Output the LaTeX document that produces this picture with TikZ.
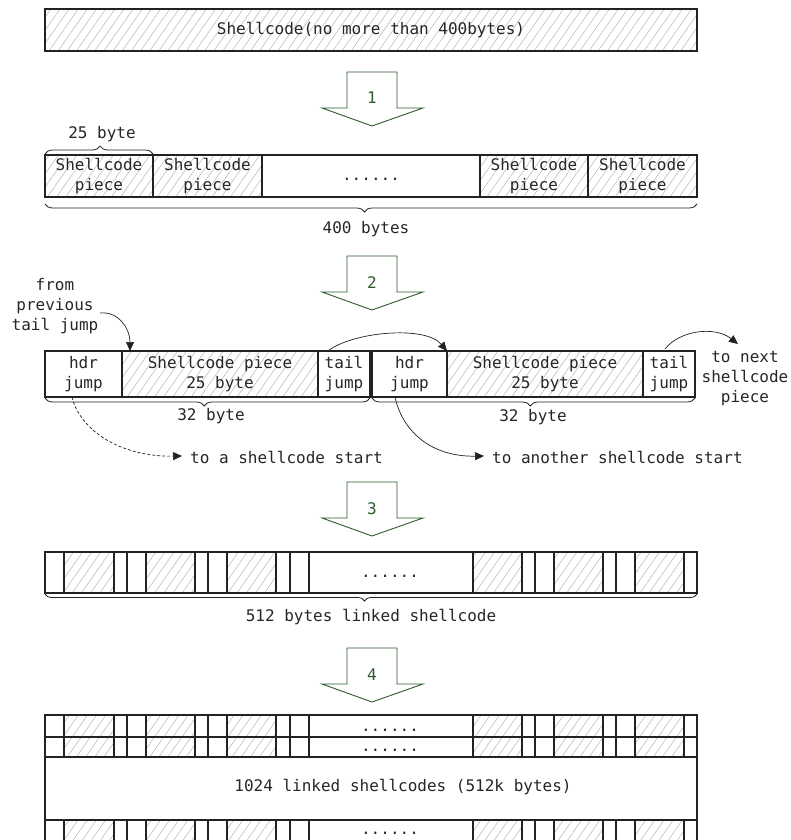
\documentclass[tikz,border=0pt]{standalone}
\usepackage{fontspec}
\setmainfont{DejaVu Sans Mono}
\usetikzlibrary{patterns.meta,decorations.pathreplacing,arrows.meta}
\definecolor{boxline}{HTML}{222222}
\definecolor{hatchc}{HTML}{B4B4B4}
\definecolor{arrowgreen}{HTML}{2E5A2E}
\tikzset{
  cell/.style={draw=boxline, line width=1.4pt, inner sep=0pt, outer sep=0pt,
    anchor=north west, align=center, text=black!85, font=\fontsize{16}{20}\selectfont},
  hatched/.style={pattern={Lines[angle=55,distance=7.5pt,line width=0.5pt]}, pattern color=hatchc},
  rowline/.style={draw=boxline, line width=1.4pt},
  bracestyle/.style={decorate, decoration={brace, amplitude=#1, aspect=0.51}, draw=boxline, line width=0.8pt},
  txt/.style={font=\fontsize{16}{20}\selectfont, inner sep=0pt, align=center, text=black!85},
  stepnum/.style={font=\fontsize{16}{20}\selectfont, text=arrowgreen, inner sep=0pt},
  bigarrow/.style={draw=arrowgreen, line width=0.9pt, fill=white, line join=miter},
  jumparrow/.style={-{Triangle[length=9pt,width=8pt]}, line width=0.7pt, draw=boxline},
}
\newcommand\shiftarrow[2]{%
  \draw[bigarrow] (347,#1) -- (397,#1) -- (397,{#1+36}) -- (423,{#1+36}) -- (372,{#1+54})
     -- (322,{#1+36}) -- (347,{#1+36}) -- cycle;
  \node[stepnum,anchor=base] (step#2) at (372,{#1+32}) {#2};
}
\newcommand\cellrow[2]{%
  \foreach \a/\b in {64/114,146/195,227/276,473/522,554/603,635/684}{%
    \path[hatched] (\a,#1) rectangle (\b,#2);
  }%
  \foreach \x in {64,114,127,146,195,208,227,276,290,309,473,522,535,554,603,616,635,684}{%
    \draw[rowline] (\x,#1) -- (\x,#2);
  }%
  \draw[rowline] (45,#1) rectangle (697,#2);
}
\begin{document}
\begin{tikzpicture}[x=1pt,y=-1pt]
\useasboundingbox (0,0) rectangle (790,840);
\clip (0,0) rectangle (790,840);

% ---------- top bar
\node[cell,hatched,minimum width=652pt,minimum height=42pt] (sc) at (45,9) {Shellcode(no more than 400bytes)};

\shiftarrow{72}{1}

% ---------- pieces row
\node[cell,hatched,minimum width=108pt,minimum height=42pt] (p1) at (45,155) {Shellcode\\piece};
\node[cell,hatched,minimum width=109pt,minimum height=42pt] (p2) at (153,155) {Shellcode\\piece};
\node[cell,minimum width=218pt,minimum height=42pt] (pd) at (262,155) {\vphantom{Ag}......};
\node[cell,hatched,minimum width=108pt,minimum height=42pt] (p3) at (480,155) {Shellcode\\piece};
\node[cell,hatched,minimum width=109pt,minimum height=42pt] (p4) at (588,155) {Shellcode\\piece};

\draw[bracestyle=8pt] ([yshift=1pt]p1.north west) -- ([yshift=1pt]p1.north east);
\node[txt,anchor=base] (b25) at (102,139) {25 byte};
\draw[bracestyle=8pt] ([yshift=-7pt]p4.south east) -- ([yshift=-7pt]p1.south west);
\node[txt,anchor=base] (b400) at (366,233) {400 bytes};

\shiftarrow{256}{2}

% ---------- linked pieces
\node[txt] (fp) at (55,306) {from\\previous\\tail jump};

\node[cell,minimum width=77pt,minimum height=46pt] (h1) at (45,351) {hdr\\jump};
\node[cell,hatched,minimum width=196pt,minimum height=46pt] (s1) at (122,351) {Shellcode piece\\25 byte};
\node[cell,minimum width=52pt,minimum height=46pt] (t1) at (318,351) {tail\\jump};
\node[cell,minimum width=75pt,minimum height=46pt] (h2) at (372,351) {hdr\\jump};
\node[cell,hatched,minimum width=196pt,minimum height=46pt] (s2) at (447,351) {Shellcode piece\\25 byte};
\node[cell,minimum width=52pt,minimum height=46pt] (t2) at (643,351) {tail\\jump};

\draw[bracestyle=8pt] ([yshift=-1pt]t1.south east) -- ([yshift=-1pt]h1.south west);
\node[txt,anchor=base] (b32a) at (211,420) {32 byte};
\draw[bracestyle=8pt] ([yshift=-1pt]t2.south east) -- ([yshift=-1pt]h2.south west);
\node[txt,anchor=base] (b32b) at (533,421) {32 byte};

\node[txt] (np) at (745,379) {to next\\shellcode\\piece};
\node[txt,anchor=base west] (ta) at (190,463) {to a shellcode start};
\node[txt,anchor=base west] (tb) at (492,463) {to another shellcode start};

\coordinate (fpout) at (100,313);
\coordinate (t2out) at (665,349);
\coordinate (nextin) at (738,344);
\draw[jumparrow] (fpout) .. controls (118,311) and (130,328) .. ([xshift=8pt]s1.north west);
\draw[jumparrow] ([xshift=-16pt]t1.north) .. controls (352,332) and (425,325) .. (s2.north west);
\draw[jumparrow] (t2out) .. controls (680,330) and (715,326) .. (nextin);
\draw[jumparrow,dash pattern=on 3pt off 2pt] ([xshift=-11.5pt]h1.south) .. controls (80,430) and (120,457) .. ([xshift=-8pt,yshift=1pt]ta.west);
\draw[jumparrow] ([xshift=-14.5pt]h2.south) .. controls (402,430) and (430,457) .. ([xshift=-8pt,yshift=1pt]tb.west);

\shiftarrow{482}{3}

% ---------- 512 bytes row
\cellrow{552}{593}
\node[txt,anchor=base] (d4) at (390,577) {......};
\draw[bracestyle=7pt] (697,594) -- (45,594);
\node[txt,anchor=base] (b512) at (371,621) {512 bytes linked shellcode};

\shiftarrow{648}{4}

% ---------- 1024 shellcodes
\cellrow{715}{737}
\node[txt,anchor=base] (d5a) at (390,731) {......};
\cellrow{737}{757}
\node[txt,anchor=base] (d5b) at (390,751) {......};
\node[cell,minimum width=652pt,minimum height=63pt] (big) at (45,757) {};
\node[txt] (bigtxt) at (403,787) {1024 linked shellcodes (512k bytes)};
\cellrow{820}{846}
\node[txt,anchor=base] (d5c) at (390,834) {......};
\end{tikzpicture}
\end{document}
